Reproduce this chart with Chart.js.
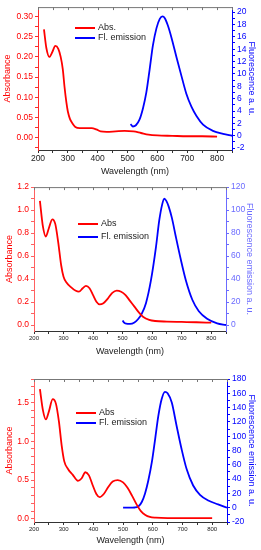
<!DOCTYPE html>
<html>
<head>
<meta charset="utf-8">
<script src="https://cdn.jsdelivr.net/npm/chart.js@4/dist/chart.umd.min.js"></script>
<style>
  body { margin: 0; background: #fff; }
  canvas { display: block; }
</style>
</head>
<body>
<canvas id="chart1" width="261" height="180"></canvas>
<canvas id="chart2" width="261" height="185"></canvas>
<canvas id="chart3" width="261" height="185"></canvas>
<script>
// panel 1
const absWl1 = [220, 228, 238, 248, 258, 268, 276, 283, 289, 295, 300, 307, 315, 325, 340, 360, 380, 395, 410, 430, 460, 490, 520, 545, 570, 600, 650, 700, 750, 800];
const abs1 = [0.268, 0.222, 0.200, 0.212, 0.227, 0.220, 0.200, 0.170, 0.125, 0.088, 0.065, 0.047, 0.036, 0.027, 0.024, 0.024, 0.024, 0.021, 0.016, 0.015, 0.016, 0.017, 0.016, 0.012, 0.008, 0.006, 0.005, 0.004, 0.004, 0.003];
const flWl1 = [510, 518, 528, 540, 552, 563, 574, 585, 597, 608, 617, 625, 636, 647, 664, 681, 697, 714, 731, 753, 786, 820, 850];
const fl1 = [1.9, 1.5, 1.7, 2.6, 4.5, 7.0, 10.7, 14.6, 17.4, 18.9, 19.3, 19.0, 17.7, 15.9, 12.7, 9.6, 6.8, 4.7, 3.2, 1.8, 0.8, 0.3, 0.0];

// panel 2
const absWl2 = [220, 230, 240, 250, 262, 272, 282, 292, 300, 310, 325, 340, 352, 365, 376, 388, 400, 412, 422, 435, 450, 465, 480, 495, 510, 525, 540, 555, 570, 590, 610, 650, 700, 750, 800];
const abs2 = [1.08, 0.86, 0.77, 0.84, 0.92, 0.88, 0.72, 0.52, 0.42, 0.37, 0.33, 0.30, 0.29, 0.32, 0.34, 0.32, 0.26, 0.20, 0.18, 0.19, 0.23, 0.28, 0.30, 0.29, 0.26, 0.21, 0.16, 0.11, 0.07, 0.045, 0.035, 0.03, 0.027, 0.024, 0.02];
const flWl2 = [500, 505, 512, 525, 540, 552, 565, 579, 596, 613, 624, 634, 641, 648, 656, 667, 680, 697, 714, 736, 758, 786, 820, 850];
const fl2 = [4, 2, 1.2, 1, 2.2, 5, 10, 19, 39, 68, 91, 105, 110, 108, 103, 93, 77, 57, 39, 22, 12, 5.5, 1.5, 0];

// panel 3
const absWl3 = [220, 230, 240, 250, 263, 274, 284, 293, 302, 315, 330, 348, 360, 373, 385, 398, 410, 421, 435, 450, 465, 482, 500, 515, 530, 545, 560, 575, 590, 610, 650, 700, 800];
const abs3 = [1.67, 1.40, 1.28, 1.38, 1.54, 1.48, 1.25, 0.95, 0.74, 0.64, 0.57, 0.49, 0.52, 0.60, 0.56, 0.43, 0.32, 0.28, 0.32, 0.41, 0.48, 0.50, 0.47, 0.40, 0.30, 0.19, 0.10, 0.05, 0.025, 0.015, 0.01, 0.01, 0.01];
const flWl3 = [500, 520, 540, 552, 563, 574, 585, 597, 608, 619, 630, 641, 650, 664, 680, 697, 714, 736, 759, 787, 820, 850];
const fl3 = [0, 0, 0.3, 2, 8, 20, 38, 64, 96, 129, 152, 162, 160, 147, 115, 82, 54, 31, 18, 10, 4.7, 0];

const xTitle = 'Wavelength (nm)';
const yTitle = 'Absorbance';
const legendLabels1 = ['Abs.', 'Fl. emission'];
const legendLabels = ['Abs', 'Fl. emission'];

const FONT = '"Liberation Sans", Arial, sans-serif';
const RED = '#ff0000';
const BLUE = '#0000ff';

function pts(xs, ys) {
    return xs.map((x, i) => ({ x: x, y: ys[i] }));
}

function isMajor(v, major) {
    return Math.abs(v / major - Math.round(v / major)) < 1e-6;
}

// top frame line + hand placed legend
const framePlugin = {
    id: 'frame',
    afterDraw(chart, args, opts) {
        const { ctx, chartArea: a, scales } = chart;
        ctx.save();
        ctx.strokeStyle = '#777';
        ctx.lineWidth = 1;
        ctx.beginPath();
        ctx.moveTo(a.left, a.top + 0.5);
        ctx.lineTo(a.right, a.top + 0.5);
        scales.x.ticks.forEach(t => {
            const px = Math.round(scales.x.getPixelForValue(t.value)) + 0.5;
            ctx.moveTo(px, a.top);
            ctx.lineTo(px, a.top + 3);
        });
        ctx.stroke();

        ctx.font = '9px ' + FONT;
        ctx.textBaseline = 'middle';
        opts.items.forEach((it, i) => {
            const y = opts.y + i * opts.gap;
            ctx.strokeStyle = it.color;
            ctx.lineWidth = 2;
            ctx.beginPath();
            ctx.moveTo(opts.x, y);
            ctx.lineTo(opts.x + opts.len, y);
            ctx.stroke();
            ctx.fillStyle = '#222';
            ctx.fillText(it.text, opts.x + opts.len + 3, y);
        });
        ctx.restore();
    }
};

function makeChart(id, p) {
    const ctx = document.getElementById(id).getContext('2d');
    return new Chart(ctx, {
        type: 'line',
        data: {
            datasets: [{
                data: pts(p.absWl, p.abs),
                borderColor: RED,
                borderWidth: 1.8,
                pointRadius: 0,
                cubicInterpolationMode: 'monotone',
                yAxisID: 'y'
            }, {
                data: pts(p.flWl, p.fl),
                borderColor: BLUE,
                borderWidth: 1.8,
                pointRadius: 0,
                cubicInterpolationMode: 'monotone',
                yAxisID: 'y1'
            }]
        },
        options: {
            responsive: false,
            animation: false,
            devicePixelRatio: 1,
            layout: { padding: { top: p.top, left: 0, right: 0, bottom: 0 } },
            plugins: {
                legend: { display: false },
                tooltip: { enabled: false },
                frame: { x: p.legX, y: p.legY, gap: p.legGap, len: 20, items: [
                    { text: p.labels[0], color: RED },
                    { text: p.labels[1], color: BLUE }
                ] }
            },
            scales: {
                x: {
                    type: 'linear',
                    position: 'bottom',
                    min: 200,
                    max: 850,
                    afterFit: s => { s.height = p.xH; },
                    border: { color: '#333', width: 1 },
                    grid: { drawOnChartArea: false, tickLength: 3, color: '#333' },
                    ticks: {
                        stepSize: 50,
                        autoSkip: false,
                        maxRotation: 0,
                        includeBounds: false,
                        padding: 1,
                        color: '#222',
                        font: { family: FONT, size: p.xFont },
                        callback: v => (isMajor(v, 100) && v <= 800) ? String(v) : ''
                    },
                    title: {
                        display: true,
                        text: xTitle,
                        color: '#222',
                        font: { family: FONT, size: 9 },
                        padding: { top: 0, bottom: p.xTitlePad }
                    }
                },
                y: {
                    position: 'left',
                    min: p.yMin,
                    max: p.yMax,
                    afterFit: s => { s.width = p.yW; },
                    border: { color: p.leftColor, width: 1 },
                    grid: { drawOnChartArea: false, tickLength: 3, color: p.leftColor },
                    ticks: {
                        stepSize: p.yStep,
                        autoSkip: false,
                        includeBounds: false,
                        padding: 2,
                        color: RED,
                        font: { family: FONT, size: 8.5 },
                        callback: v => isMajor(v, p.yMajor) ? v.toFixed(p.yDec) : ''
                    },
                    title: {
                        display: true,
                        text: yTitle,
                        color: RED,
                        font: { family: FONT, size: 9 },
                        padding: { top: p.yTitlePad, bottom: 0 }
                    }
                },
                y1: {
                    position: 'right',
                    min: p.y1Min,
                    max: p.y1Max,
                    afterFit: s => { s.width = p.y1W; },
                    border: { color: p.rightColor, width: 1 },
                    grid: { drawOnChartArea: false, tickLength: 3, color: p.rightColor },
                    ticks: {
                        stepSize: p.y1Step,
                        autoSkip: false,
                        includeBounds: false,
                        padding: 2,
                        color: p.rightColor,
                        font: { family: FONT, size: 8.5 },
                        callback: v => isMajor(v, p.y1Major) ? String(Math.round(v)) : ''
                    },
                    title: {
                        display: true,
                        text: p.y1Title,
                        color: p.rightColor,
                        font: { family: FONT, size: 9 },
                        padding: { top: p.y1TitlePad, bottom: 0 }
                    }
                }
            }
        },
        plugins: [framePlugin]
    });
}

makeChart('chart1', {
    absWl: absWl1, abs: abs1, flWl: flWl1, fl: fl1,
    labels: legendLabels1, legX: 75, legY: 28, legGap: 10,
    top: 3, xH: 30, yW: 38, y1W: 29, xFont: 8.5,
    xTitlePad: 2.6, yTitlePad: 2, y1TitlePad: 3.9,
    yMin: -0.03, yMax: 0.323, yStep: 0.025, yMajor: 0.05, yDec: 2,
    y1Min: -2.3, y1Max: 20.8, y1Step: 1, y1Major: 2,
    y1Title: 'Fluorescence a. u.',
    leftColor: '#ff2a2a', rightColor: BLUE
});

makeChart('chart2', {
    absWl: absWl2, abs: abs2, flWl: flWl2, fl: fl2,
    labels: legendLabels, legX: 78, legY: 44, legGap: 13,
    top: 7, xH: 34, yW: 34, y1W: 35, xFont: 6,
    xTitlePad: 7.9, yTitlePad: 4.6, y1TitlePad: 6.3,
    yMin: -0.052, yMax: 1.2, yStep: 0.1, yMajor: 0.2, yDec: 1,
    y1Min: -5.2, y1Max: 120, y1Step: 10, y1Major: 20,
    y1Title: 'Fluorescence emission a. u.',
    leftColor: '#ff6060', rightColor: '#6b6bff'
});

makeChart('chart3', {
    absWl: absWl3, abs: abs3, flWl: flWl3, fl: fl3,
    labels: legendLabels, legX: 76, legY: 48, legGap: 10,
    top: 14, xH: 28, yW: 34, y1W: 34, xFont: 6,
    xTitlePad: 3.9, yTitlePad: 3.9, y1TitlePad: 3.9,
    yMin: -0.04, yMax: 1.8, yStep: 0.1, yMajor: 0.5, yDec: 1,
    y1Min: -20, y1Max: 180, y1Step: 10, y1Major: 20,
    y1Title: 'Fluorescence emission a. u.',
    leftColor: '#ff6060', rightColor: BLUE
});
</script>
</body>
</html>
